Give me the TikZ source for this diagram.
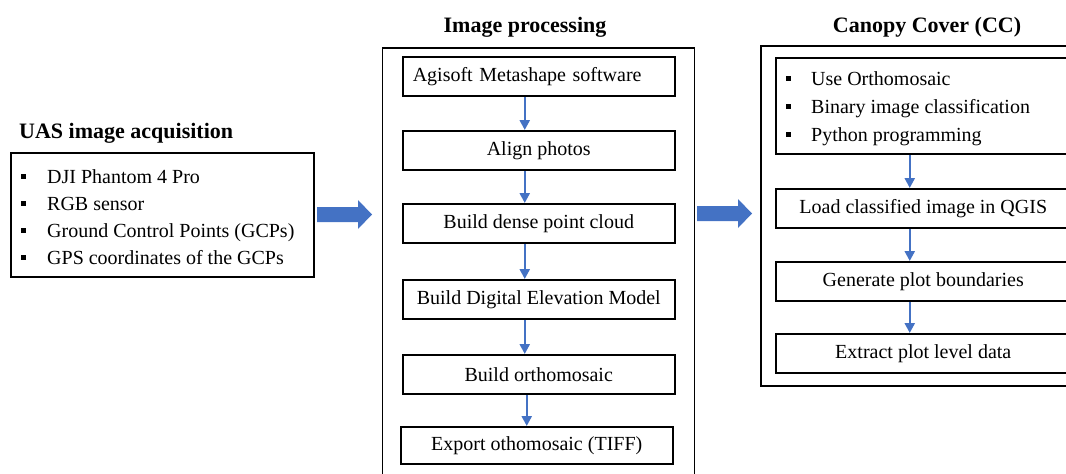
\documentclass[tikz,border=0pt]{standalone}
\usepackage{fontspec}
\setmainfont{Liberation Serif}
\usetikzlibrary{arrows.meta}
\definecolor{flowblue}{HTML}{4472C4}
\newcommand{\sqbul}{\rule[0.22em]{5pt}{5pt}}

\begin{document}
\begin{tikzpicture}[x=1pt,y=-1pt,
  heading/.style={font=\fontsize{22}{26}\selectfont\bfseries, inner sep=0pt},
  frame/.style={draw, line width=1.6pt, inner sep=0pt, anchor=north west},
  procbox/.style={draw, line width=1.5pt, inner sep=0pt, anchor=north west,
    minimum height=39pt, font=\fontsize{20}{24}\selectfont},
  midbox/.style={procbox, minimum width=272pt},
  ccbox/.style={procbox, minimum width=295pt},
  item/.style={anchor=base west, inner sep=0pt, font=\fontsize{20}{24}\selectfont},
  flowarrow/.style={draw=flowblue, line width=2.4pt,
    -{Triangle[width=10pt,length=10pt]}, shorten <=0.8pt},
  fat arrow/.pic={\fill[flowblue] (0,-7.5) -- (41,-7.5) -- (41,-14.5) -- (55,0)
    -- (41,14.5) -- (41,7.5) -- (0,7.5) -- cycle;}]

\useasboundingbox (0,0) rectangle (1066,474);
\clip (0,0) rectangle (1066,474);

% ---------- UAS image acquisition ----------
\node[heading, anchor=west] (uastitle) at (19,133) {UAS image acquisition};
\node[frame, minimum width=303pt, minimum height=124pt] (uas) at (10,152) {};
\node[item] (u1) at (21,183) {\sqbul\hspace{21pt}DJI Phantom 4 Pro};
\node[item] (u2) at (21,210) {\sqbul\hspace{21pt}RGB sensor};
\node[item] (u3) at (21,237) {\sqbul\hspace{21pt}Ground Control Points (GCPs)};
\node[item] (u4) at (21,264) {\sqbul\hspace{21pt}GPS coordinates of the GCPs};

% ---------- Image processing ----------
\node[heading] (iptitle) at (525,27) {Image processing};
\node[frame, minimum width=312pt, minimum height=450pt] (ip) at (381.5,47) {};
\node[midbox, text width=252pt, align=left, inner xsep=10pt] (p1) at (402,56) {Agisoft Metashape software};
\node[midbox] (p2) at (402,130) {Align photos};
\node[midbox] (p3) at (402,203) {Build dense point cloud};
\node[midbox] (p4) at (402,279) {Build Digital Elevation Model};
\node[midbox] (p5) at (402,354) {Build orthomosaic};
\node[midbox, minimum height=37pt] (p6) at (400,426) {Export othomosaic (TIFF)};

\draw[flowarrow] ([xshift=-14pt]p1.south) -- ([xshift=-14pt]p2.north);
\draw[flowarrow] ([xshift=-14pt]p2.south) -- ([xshift=-14pt]p3.north);
\draw[flowarrow] ([xshift=-14pt]p3.south) -- ([xshift=-14pt]p4.north);
\draw[flowarrow] ([xshift=-14pt]p4.south) -- ([xshift=-14pt]p5.north);
\draw[flowarrow] ([xshift=-12pt]p5.south) -- ([xshift=-10pt]p6.north);

% ---------- Canopy Cover ----------
\node[heading] (cctitle) at (927,27) {Canopy Cover (CC)};
\node[frame, minimum width=330pt, minimum height=340pt] (cc) at (760,45) {};
\node[ccbox, minimum height=96pt] (c1) at (775,57) {};
\node[item] (r1) at (786,85) {\sqbul\hspace{20pt}Use Orthomosaic};
\node[item] (r2) at (786,113) {\sqbul\hspace{20pt}Binary image classification};
\node[item] (r3) at (786,141) {\sqbul\hspace{20pt}Python programming};
\node[ccbox] (c2) at (775,188) {Load classified image in QGIS};
\node[ccbox] (c3) at (775,261) {Generate plot boundaries};
\node[ccbox] (c4) at (775,333) {Extract plot level data};

\draw[flowarrow] ([xshift=-13.5pt]c1.south) -- ([xshift=-13.5pt]c2.north);
\draw[flowarrow] ([xshift=-13.5pt]c2.south) -- ([xshift=-13.5pt]c3.north);
\draw[flowarrow] ([xshift=-13.5pt]c3.south) -- ([xshift=-13.5pt]c4.north);

% ---------- stage-to-stage arrows ----------
\pic at (317,214.5) {fat arrow};
\pic at (697,213.5) {fat arrow};
\end{tikzpicture}
\end{document}
